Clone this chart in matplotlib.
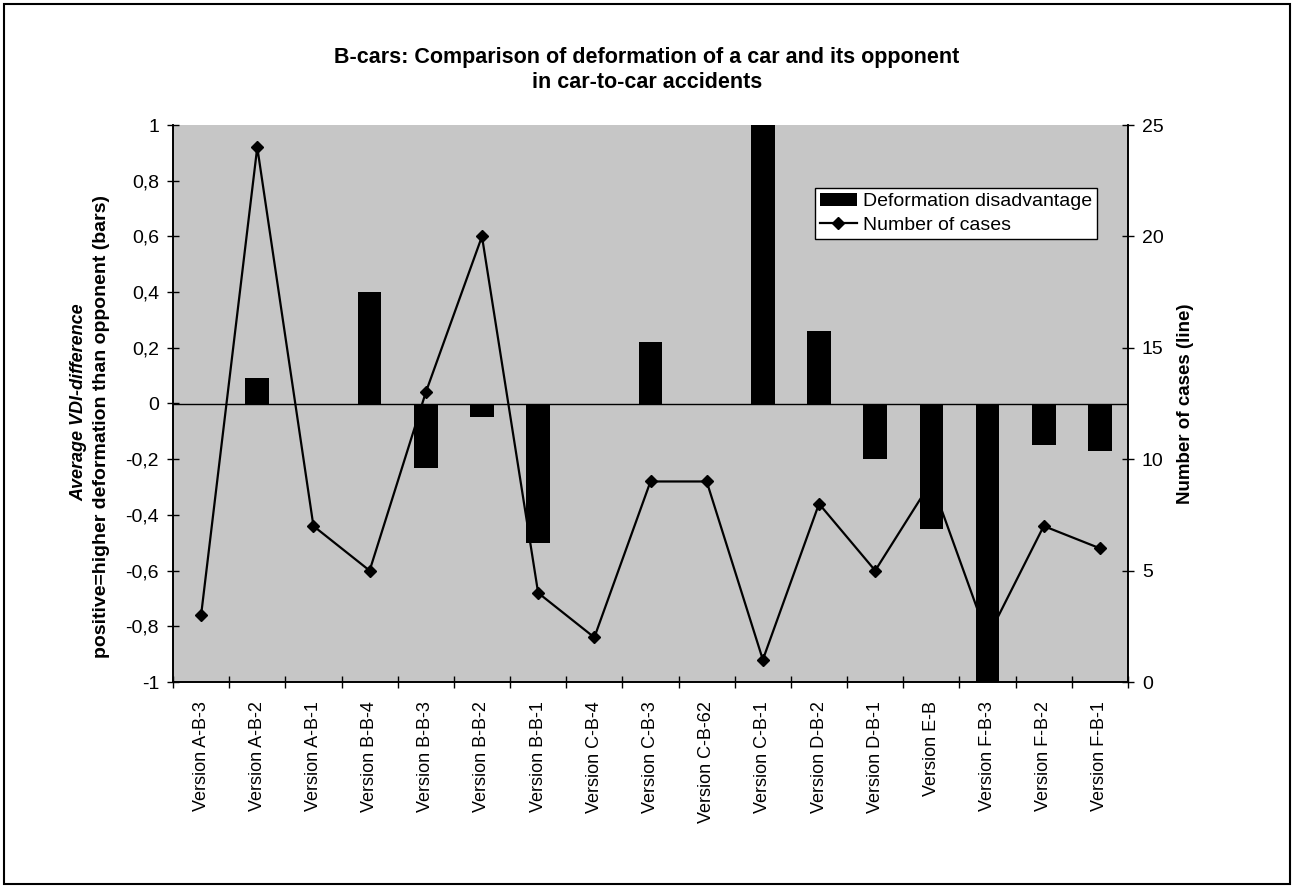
import matplotlib
matplotlib.use("Agg")
import matplotlib.pyplot as plt
import numpy as np
from matplotlib.ticker import FuncFormatter, MultipleLocator
from matplotlib.patches import Rectangle

plt.rcParams['font.family'] = ['Liberation Sans', 'DejaVu Sans']

# Data
versions = ["Version A-B-3", "Version A-B-2", "Version A-B-1", "Version B-B-4",
            "Version B-B-3", "Version B-B-2", "Version B-B-1", "Version C-B-4",
            "Version C-B-3", "Version C-B-62", "Version C-B-1", "Version D-B-2",
            "Version D-B-1", "Version E-B", "Version F-B-3", "Version F-B-2",
            "Version F-B-1"]
deformation = [0.0, 0.09, 0.0, 0.40, -0.23, -0.05, -0.50, 0.0,
               0.22, 0.0, 1.0, 0.26, -0.20, -0.45, -1.0, -0.15, -0.17]
cases = [3, 24, 7, 5, 13, 20, 4, 2, 9, 9, 1, 8, 5, 9, 2, 7, 6]

W, H = 1294, 888
fig = plt.figure(figsize=(W / 100, H / 100), dpi=100)
# plot area: x 173..1128, y 125..682 (pixels)
ax1 = fig.add_axes([173 / W, 1 - 682 / H, (1128 - 173) / W, (682 - 125) / H])
ax1.set_facecolor('#c6c6c6')

x = np.arange(len(versions))
ax1.bar(x, deformation, width=0.42, color='black', label="Deformation disadvantage", zorder=2)
ax1.axhline(0, color='black', linewidth=1, zorder=3)

ax1.set_xlim(-0.5, len(versions) - 0.5)
ax1.set_ylim(-1, 1)
ax1.yaxis.set_major_locator(MultipleLocator(0.2))
ax1.yaxis.set_major_formatter(FuncFormatter(
    lambda v, p: ('%g' % round(v, 1)).replace('.', ',')))

ax1.set_xticks(x)
ax1.set_xticklabels(versions, rotation=90, fontsize=13)
ax1.tick_params(axis='x', which='major', length=0, pad=14)
ax1.set_xticks(np.arange(-0.5, len(versions), 1), minor=True)
ax1.tick_params(axis='x', which='minor', direction='inout', length=8, width=1)
ax1.tick_params(axis='y', direction='inout', length=8, width=1, labelsize=14, pad=6)

# two-line y label: first line italic
fig.text(79 / W, 1 - 402 / H, "Average VDI-difference", rotation=90, ha='center', va='center',
         fontsize=13, fontweight='bold', fontstyle='italic')
fig.text(102 / W, 1 - 427 / H, "positive=higher deformation than opponent (bars)", rotation=90,
         ha='center', va='center', fontsize=14, fontweight='bold')

ax2 = ax1.twinx()
ax2.plot(x, cases, color='black', linewidth=1.6, marker='D', markersize=6,
         label="Number of cases", zorder=4)
ax2.set_ylim(0, 25)
ax2.yaxis.set_major_locator(MultipleLocator(5))
ax2.tick_params(axis='y', direction='inout', length=8, width=1, labelsize=14, pad=6)
fig.text(1185 / W, 1 - 404 / H, "Number of cases (line)", rotation=90, ha='center',
         va='center', fontsize=13.5, fontweight='bold')

for a in (ax1, ax2):
    for s in a.spines.values():
        s.set_linewidth(1.2)
ax1.spines['top'].set_visible(False)
ax2.spines['top'].set_visible(False)

fig.text(0.5, 1 - 57 / H, "B-cars: Comparison of deformation of a car and its opponent",
         ha='center', va='center', fontsize=15.5, fontweight='bold')
fig.text(0.5, 1 - 83 / H, "in car-to-car accidents",
         ha='center', va='center', fontsize=15.5, fontweight='bold')

h1, l1 = ax1.get_legend_handles_labels()
h2, l2 = ax2.get_legend_handles_labels()
leg = ax2.legend(h1 + h2, l1 + l2, loc='upper left',
                 bbox_to_anchor=((815 - 173) / (1128 - 173), (682 - 188) / (682 - 125)),
                 fontsize=14, frameon=True, fancybox=False, framealpha=1,
                 edgecolor='black', borderpad=0.25, handlelength=1.9,
                 handletextpad=0.3, labelspacing=0.3, borderaxespad=0)
leg.get_frame().set_linewidth(1)

fig.patches.append(Rectangle((0.003, 0.004), 0.994, 0.992, transform=fig.transFigure,
                             fill=False, edgecolor='black', linewidth=1.5))

fig.savefig("out.png", dpi=100)
